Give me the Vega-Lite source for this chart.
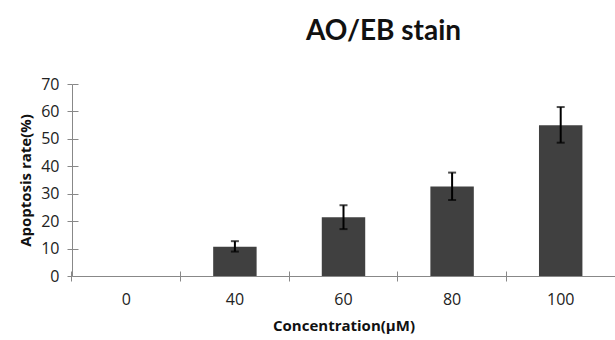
{
  "$schema": "https://vega.github.io/schema/vega-lite/v6.json",
  "width": 543,
  "height": 192,
  "autosize": {"type": "none"},
  "padding": {"left": 72, "top": 84, "right": 0, "bottom": 64},
  "background": "white",
  "title": {
    "text": "AO/EB stain",
    "font": "Lato",
    "fontSize": 28,
    "fontWeight": "bold",
    "color": "#111111",
    "dx": 40,
    "offset": 30
  },
  "data": {
    "values": [
      {"conc": "0", "rate": 0, "lo": 0, "hi": 0},
      {"conc": "40", "rate": 10.7, "lo": 8.9, "hi": 12.7},
      {"conc": "60", "rate": 21.4, "lo": 17.1, "hi": 25.8},
      {"conc": "80", "rate": 32.6, "lo": 27.7, "hi": 37.7},
      {"conc": "100", "rate": 55.0, "lo": 48.6, "hi": 61.6}
    ]
  },
  "config": {
    "view": {"stroke": null},
    "axis": {
      "labelFont": "Open Sans",
      "titleFont": "Open Sans",
      "labelColor": "#222222",
      "titleColor": "#111111",
      "domainColor": "#888888",
      "tickColor": "#888888",
      "grid": false
    },
    "axisY": {
      "titleFontSize": 15,
      "titleFontWeight": "bold",
      "titlePadding": 7,
      "labelFontSize": 16,
      "labelPadding": 8,
      "labelOverlap": false,
      "tickSize": 5
    }
  },
  "resolve": {"axis": {"x": "independent", "y": "independent"}},
  "layer": [
    {
      "mark": {"type": "bar", "color": "#404040"},
      "encoding": {
        "x": {
          "field": "conc",
          "type": "nominal",
          "sort": ["0", "40", "60", "80", "100"],
          "scale": {"paddingInner": 0.6, "paddingOuter": 0.3},
          "axis": {
            "orient": "bottom",
            "title": "Concentration(μM)",
            "titleFontSize": 15,
            "titleFontWeight": "bold",
            "titlePadding": 11,
            "labelFontSize": 16,
            "labelAngle": 0,
            "labelPadding": 10,
            "bandPosition": -0.75,
            "tickSize": 5
          }
        },
        "y": {
          "field": "rate",
          "type": "quantitative",
          "scale": {"domain": [0, 70]},
          "axis": {"orient": "left", "title": "Apoptosis rate(%)", "values": [0, 10, 20, 30, 40, 50, 60, 70]}
        }
      }
    },
    {
      "mark": {"type": "bar", "opacity": 0},
      "encoding": {
        "x": {
          "field": "conc",
          "type": "nominal",
          "sort": ["0", "40", "60", "80", "100"],
          "axis": {"orient": "bottom", "title": null, "labels": false, "domain": false, "bandPosition": -0.75, "tickSize": -5}
        },
        "y": {
          "field": "rate",
          "type": "quantitative",
          "axis": {"orient": "left", "title": null, "labels": false, "domain": false, "values": [0, 10, 20, 30, 40, 50, 60, 70], "tickSize": -6}
        }
      }
    },
    {
      "transform": [{"filter": "datum.rate > 0"}],
      "mark": {"type": "rule", "color": "#000000", "strokeWidth": 2},
      "encoding": {
        "x": {"field": "conc", "type": "nominal", "sort": ["0", "40", "60", "80", "100"], "axis": null},
        "y": {"field": "lo", "type": "quantitative", "axis": null},
        "y2": {"field": "hi"}
      }
    },
    {
      "transform": [{"filter": "datum.rate > 0"}],
      "mark": {"type": "tick", "color": "#000000", "thickness": 2, "size": 8, "orient": "horizontal"},
      "encoding": {
        "x": {"field": "conc", "type": "nominal", "sort": ["0", "40", "60", "80", "100"], "axis": null},
        "y": {"field": "lo", "type": "quantitative", "axis": null}
      }
    },
    {
      "transform": [{"filter": "datum.rate > 0"}],
      "mark": {"type": "tick", "color": "#000000", "thickness": 2, "size": 8, "orient": "horizontal"},
      "encoding": {
        "x": {"field": "conc", "type": "nominal", "sort": ["0", "40", "60", "80", "100"], "axis": null},
        "y": {"field": "hi", "type": "quantitative", "axis": null}
      }
    }
  ]
}
